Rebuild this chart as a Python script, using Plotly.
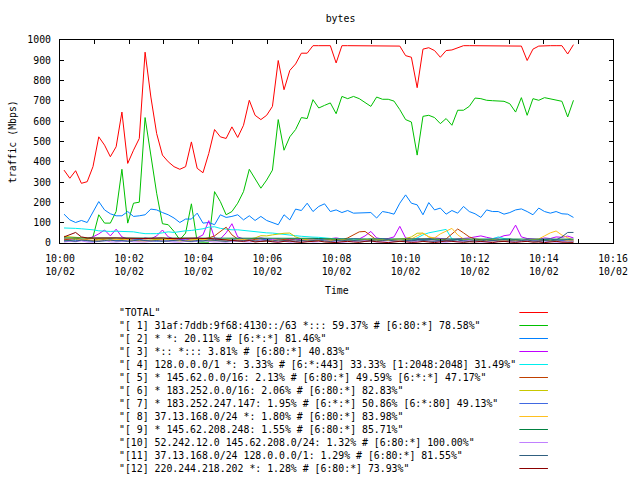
import plotly.graph_objects as go
import pandas as pd

# ---------------- data ----------------
times = pd.date_range("2024-10-02 10:00:07", periods=89, freq="10050ms")

series_names = [
    '"TOTAL"',
    '"[ 1] 31af:7ddb:9f68:4130::/63 *::: 59.37% # [6:80:*] 78.58%"',
    '"[ 2] * *: 20.11% # [6:*:*] 81.46%"',
    '"[ 3] *:: *::: 3.81% # [6:80:*] 40.83%"',
    '"[ 4] 128.0.0.0/1 *: 3.33% # [6:*:443] 33.33% [1:2048:2048] 31.49%"',
    '"[ 5] * 145.62.0.0/16: 2.13% # [6:80:*] 49.59% [6:*:*] 47.17%"',
    '"[ 6] * 183.252.0.0/16: 2.06% # [6:80:*] 82.83%"',
    '"[ 7] * 183.252.247.147: 1.95% # [6:*:*] 50.86% [6:*:80] 49.13%"',
    '"[ 8] 37.13.168.0/24 *: 1.80% # [6:80:*] 83.98%"',
    '"[ 9] * 145.62.208.248: 1.55% # [6:80:*] 85.71%"',
    '"[10] 52.242.12.0 145.62.208.0/24: 1.32% # [6:80:*] 100.00%"',
    '"[11] 37.13.168.0/24 128.0.0.0/1: 1.29% # [6:80:*] 81.55%"',
    '"[12] 220.244.218.202 *: 1.28% # [6:80:*] 73.93%"',
]

series_colors = ["#ff0000", "#00c000", "#0080ff", "#c000ff", "#00eeee", "#c04000",
                 "#c8c800", "#4169e1", "#ffc020", "#008040", "#c080ff", "#306080", "#8b0000"]

total = [359, 319, 356, 294, 302, 376, 523, 482, 425, 474,
         645, 392, 457, 515, 940, 719, 539, 433, 400, 376,
         363, 376, 498, 368, 346, 441, 559, 523, 515, 572,
         520, 580, 703, 629, 608, 629, 673, 899, 755, 850,
         882, 935, 935, 972, 972, 972, 972, 887, 972, 972,
         972, 972, 972, 970, 972, 972, 972, 972, 970, 923,
         915, 765, 955, 962, 948, 915, 948, 951, 961, 972,
         972, 972, 972, 970, 972, 972, 972, 972, 972, 970,
         899, 955, 970, 972, 972, 972, 972, 931, 977]

s1 = [15, 12, 18, 14, 20, 30, 139, 98, 98, 155,
      363, 98, 196, 201, 618, 425, 245, 95, 90, 57,
      16, 49, 193, 5, 3, 4, 253, 204, 139, 155,
      196, 253, 363, 319, 270, 310, 359, 608, 457, 523,
      559, 618, 613, 706, 665, 678, 690, 637, 722, 711,
      722, 711, 694, 673, 719, 708, 708, 699, 657, 608,
      596, 433, 624, 629, 618, 588, 613, 580, 654, 654,
      673, 714, 711, 703, 701, 701, 698, 686, 645, 716,
      629, 711, 703, 716, 711, 703, 698, 621, 703]

s2 = [142, 114, 101, 111, 101, 155, 204, 163, 144, 134,
      134, 155, 131, 134, 139, 167, 163, 150, 139, 123,
      101, 118, 118, 147, 98, 101, 90, 139, 126, 131,
      139, 114, 134, 111, 131, 111, 101, 90, 139, 114,
      167, 160, 196, 155, 180, 193, 155, 163, 150, 160,
      147, 147, 147, 150, 123, 155, 150, 142, 196, 237,
      196, 188, 139, 199, 163, 172, 142, 160, 147, 180,
      155, 144, 126, 163, 155, 155, 142, 150, 163, 168,
      155, 139, 172, 155, 147, 155, 144, 142, 126]

s3 = [20, 18, 22, 15, 20, 30, 45, 64, 35, 68,
      30, 20, 18, 15, 25, 20, 35, 64, 30, 20,
      18, 15, 20, 25, 40, 110, 25, 20, 50, 95,
      30, 20, 18, 22, 25, 20, 18, 20, 15, 18,
      20, 15, 18, 20, 22, 18, 20, 25, 20, 18,
      22, 20, 35, 57, 25, 20, 22, 30, 82, 25,
      20, 22, 18, 20, 25, 22, 20, 18, 20, 22,
      25, 30, 35, 28, 22, 25, 36, 40, 88, 30,
      22, 20, 18, 25, 22, 30, 28, 34, 25]

s4 = [74, 74, 72, 70, 69, 65, 60, 57, 57, 58,
      57, 57, 55, 50, 46, 46, 46, 50, 55, 52,
      57, 60, 62, 65, 70, 78, 80, 72, 68, 65,
      65, 62, 57, 55, 54, 50, 49, 45, 41, 38,
      36, 33, 30, 29, 28, 25, 22, 20, 20, 18,
      20, 18, 15, 20, 18, 15, 12, 15, 10, 12,
      15, 25, 40, 50, 55, 62, 67, 20, 15, 12,
      10, 12, 15, 18, 20, 30, 22, 18, 15, 12,
      10, 12, 15, 12, 10, 15, 12, 10, 8]

s5 = [15, 20, 25, 18, 15, 12, 20, 15, 12, 15,
      18, 15, 12, 10, 15, 12, 18, 15, 20, 15,
      12, 10, 15, 18, 20, 25, 35, 55, 78, 40,
      20, 15, 12, 18, 20, 15, 12, 15, 18, 20,
      15, 12, 10, 15, 12, 18, 15, 20, 15, 25,
      40, 55, 57, 35, 15, 12, 15, 10, 12, 15,
      12, 15, 20, 18, 15, 12, 20, 45, 69, 50,
      30, 20, 15, 12, 10, 15, 12, 18, 15, 12,
      15, 10, 12, 15, 12, 10, 15, 12, 10]

s6 = [33, 30, 28, 25, 22, 20, 18, 20, 22, 18,
      15, 18, 20, 15, 12, 15, 18, 20, 15, 12,
      10, 12, 15, 18, 15, 12, 10, 15, 18, 20,
      18, 15, 20, 25, 36, 35, 40, 45, 48, 49,
      30, 20, 15, 12, 15, 18, 20, 15, 12, 10,
      12, 15, 18, 12, 10, 15, 12, 18, 20, 22,
      30, 48, 49, 30, 20, 15, 12, 15, 18, 15,
      12, 10, 15, 12, 10, 12, 15, 18, 15, 12,
      10, 12, 15, 18, 12, 10, 8, 12, 10]

s7 = [10, 8, 12, 15, 10, 8, 12, 10, 15, 12,
      10, 12, 15, 18, 12, 10, 8, 12, 15, 10,
      12, 15, 10, 8, 12, 15, 18, 12, 10, 15,
      20, 15, 12, 10, 15, 18, 12, 10, 8, 12,
      15, 12, 10, 18, 20, 15, 12, 10, 15, 12,
      10, 12, 15, 18, 20, 22, 15, 12, 10, 15,
      12, 15, 18, 20, 15, 12, 10, 15, 18, 12,
      15, 12, 10, 8, 12, 15, 18, 20, 15, 12,
      10, 12, 15, 18, 20, 15, 12, 18, 15]

s8 = [25, 22, 20, 18, 15, 12, 10, 12, 15, 18,
      20, 15, 12, 10, 8, 10, 12, 15, 18, 15,
      12, 10, 15, 18, 20, 15, 12, 10, 8, 12,
      15, 18, 12, 10, 8, 10, 12, 15, 12, 10,
      8, 10, 12, 15, 12, 10, 12, 15, 18, 15,
      12, 10, 15, 20, 18, 15, 12, 10, 12, 15,
      20, 35, 48, 30, 25, 45, 60, 72, 40, 20,
      15, 12, 10, 15, 18, 12, 10, 15, 12, 10,
      12, 15, 20, 35, 50, 59, 39, 26, 15]

s9 = [25, 25, 24, 25, 26, 25, 25, 24, 25, 25,
      26, 25, 25, 24, 25, 25, 26, 25, 25, 24,
      25, 25, 25, 26, 25, 24, 25, 25, 25, 26,
      25, 25, 24, 25, 25, 25, 26, 25, 24, 25,
      25, 25, 24, 23, 22, 20, 20, 19, 20, 20,
      18, 20, 20, 19, 20, 18, 20, 20, 19, 20,
      20, 18, 20, 20, 19, 20, 20, 18, 20, 20,
      19, 20, 20, 18, 20, 20, 19, 20, 20, 18,
      20, 20, 19, 20, 20, 18, 20, 20, 19]

s10 = [5, 8, 6, 10, 5, 4, 8, 12, 6, 5,
       8, 10, 6, 4, 5, 8, 12, 10, 6, 5,
       4, 8, 6, 10, 12, 8, 5, 6, 4, 8,
       10, 6, 5, 8, 12, 10, 6, 5, 8, 4,
       6, 10, 8, 5, 6, 12, 8, 5, 4, 6,
       8, 10, 12, 8, 5, 6, 4, 8, 10, 6,
       5, 8, 12, 10, 6, 5, 4, 8, 6, 10,
       12, 8, 5, 6, 4, 8, 10, 6, 5, 8,
       12, 10, 6, 5, 8, 4, 6, 10, 8]

s11 = [10, 12, 8, 15, 12, 10, 8, 12, 15, 10,
       12, 8, 10, 15, 12, 10, 12, 8, 10, 12,
       15, 10, 8, 12, 10, 15, 12, 10, 8, 12,
       10, 12, 15, 10, 8, 12, 10, 15, 12, 10,
       8, 12, 10, 12, 15, 10, 8, 12, 10, 15,
       12, 10, 8, 12, 10, 12, 15, 10, 8, 12,
       10, 15, 12, 10, 8, 12, 10, 12, 15, 10,
       8, 12, 10, 15, 12, 10, 8, 12, 10, 12,
       15, 10, 8, 12, 10, 15, 30, 52, 52]

s12 = [30, 40, 52, 30, 25, 24, 25, 23, 24, 25,
       24, 23, 25, 24, 22, 23, 24, 25, 22, 23,
       24, 22, 23, 24, 22, 23, 20, 18, 15, 12,
       10, 8, 12, 5, 8, 10, 6, 4, 8, 10,
       5, 3, 6, 8, 10, 5, 4, 2, 6, 8,
       5, 3, 8, 10, 6, 4, 2, 5, 8, 6,
       3, 4, 8, 5, 2, 6, 10, 8, 4, 3,
       6, 5, 8, 4, 2, 6, 8, 5, 3, 6,
       8, 4, 5, 2, 6, 8, 4, 5, 3]

all_series = [total, s1, s2, s3, s4, s5, s6, s7, s8, s9, s10, s11, s12]

tick_values = ["2024-10-02 10:%02d:00" % m for m in range(0, 17, 2)]
tick_labels = ["10:%02d<br>10/02" % m for m in range(0, 17, 2)]
minor_values = ["2024-10-02 10:%02d:00" % m for m in range(0, 17)]

# ---------------- figure ----------------
FONT = "DejaVu Sans Mono"
FS = 9.85
W, H = 640, 480
L, R, T, B = 60, 19, 40, 237
PW, PH = W - L - R, H - T - B

fig = go.Figure()
for name, vals, col in zip(series_names, all_series, series_colors):
    fig.add_trace(go.Scatter(x=times, y=vals, mode="lines", name=name,
                             line=dict(color=col, width=1), showlegend=False))

# manual gnuplot-style key: text left, line sample right
for k, (name, col) in enumerate(zip(series_names, series_colors)):
    py = 312.5 + 13 * k
    yp = (T + PH - py) / PH
    fig.add_annotation(x=(118 - L) / PW, y=yp, xref="paper", yref="paper",
                       text=name, showarrow=False, xanchor="left", yanchor="middle",
                       font=dict(family=FONT, size=FS, color="black"))
    fig.add_shape(type="line", xref="paper", yref="paper",
                  x0=(526 - L) / PW, x1=(555 - L) / PW, y0=yp, y1=yp,
                  line=dict(color=col, width=1))

# axis titles
fig.add_annotation(x=(12 - L) / PW, y=0.5, xref="paper", yref="paper",
                   text="traffic (Mbps)", textangle=-90, showarrow=False,
                   xanchor="center", yanchor="middle",
                   font=dict(family=FONT, size=FS, color="black"))
fig.add_annotation(x=0.5, y=(T + PH - 290) / PH, xref="paper", yref="paper",
                   text="Time", showarrow=False, xanchor="center", yanchor="middle",
                   font=dict(family=FONT, size=FS, color="black"))

fig.update_layout(
    width=W, height=H,
    margin=dict(l=L, r=R, t=T, b=B, pad=0),
    paper_bgcolor="white", plot_bgcolor="white",
    font=dict(family=FONT, size=FS, color="black"),
    title=dict(text="bytes", x=(L + PW / 2) / W, xanchor="center",
               y=1 - 19 / H, yanchor="middle", font=dict(family=FONT, size=FS)),
    xaxis=dict(type="date", range=["2024-10-02 10:00:00", "2024-10-02 10:16:00"],
               tickmode="array", tickvals=tick_values, ticktext=tick_labels,
               ticks="inside", ticklen=4, tickcolor="black", tickwidth=1,
               minor=dict(tickmode="array", tickvals=minor_values, ticks="inside",
                          ticklen=4, tickcolor="black", tickwidth=1, showgrid=False),
               showline=True, linecolor="black", linewidth=1, mirror="ticks",
               showgrid=False, zeroline=False, ticklabelstandoff=6),
    yaxis=dict(range=[0, 1000], tickmode="linear", tick0=0, dtick=100,
               ticks="inside", ticklen=4, tickcolor="black", tickwidth=1,
               showline=True, linecolor="black", linewidth=1, mirror="ticks",
               showgrid=False, zeroline=False, ticklabelstandoff=6),
)

fig.write_html("out.html")
